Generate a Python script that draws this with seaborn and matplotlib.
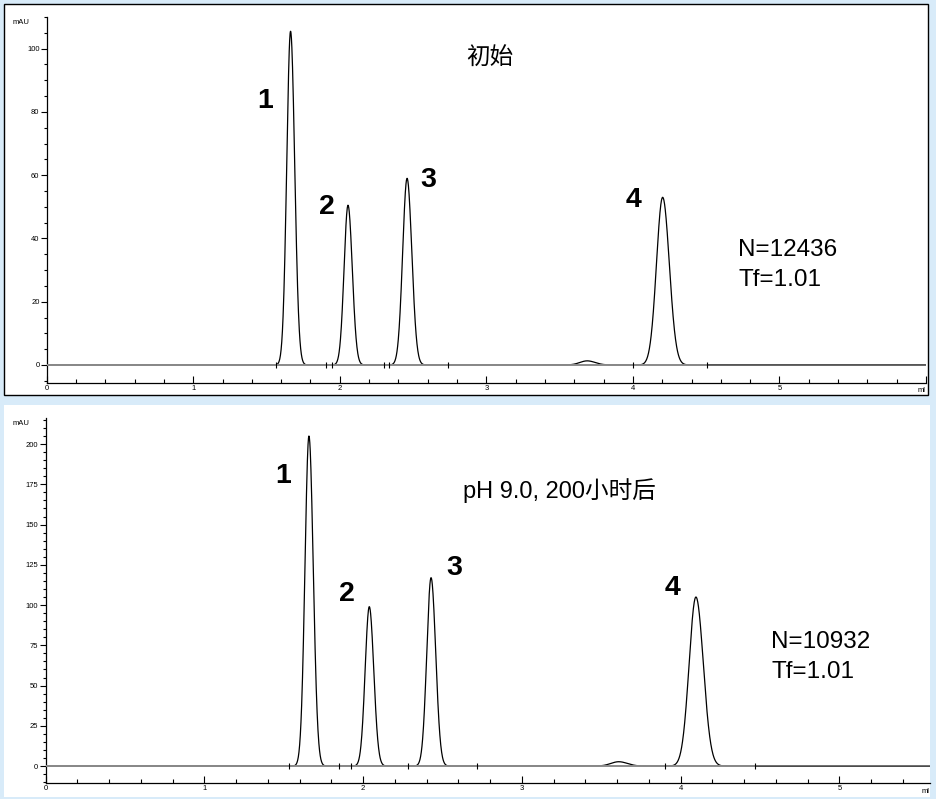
import numpy as np
import pandas as pd
import seaborn as sns
import matplotlib.pyplot as plt
from matplotlib.patches import Rectangle
from matplotlib.ticker import MultipleLocator, FuncFormatter

# peak table: retention (ml), height (mAU), width sigma (ml)
top_rt = [1.664, 2.056, 2.459, 3.688, 4.203]
top_height = [105.5, 50.5, 59.0, 1.3, 53.0]
top_sigma = [0.026, 0.027, 0.030, 0.050, 0.042]
top_events = [1.563, 1.905, 1.946, 2.305, 2.339, 2.741, 4.000, 4.505]

bot_rt = [1.659, 2.039, 2.428, 3.610, 4.096]
bot_height = [205.0, 99.0, 117.0, 2.7, 105.0]
bot_sigma = [0.025, 0.026, 0.027, 0.050, 0.043]
bot_events = [1.535, 1.850, 1.922, 2.285, 2.715, 3.901, 4.468]

peak_names = ['1', '2', '3', '4']
top_name_x = [1.49, 1.913, 2.603, 4.002]
top_name_y = [83.6, 49.8, 58.4, 52.0]
bot_name_x = [1.496, 1.899, 2.572, 3.951]
bot_name_y = [180.4, 106.6, 122.8, 110.4]

top_title = '初始'
bot_title = 'pH 9.0, 200小时后'
top_stats = ['N=12436', 'Tf=1.01']
bot_stats = ['N=10932', 'Tf=1.01']

sns.set_style('ticks')
plt.rcParams['font.family'] = ['Liberation Sans', 'Noto Sans CJK SC']
plt.rcParams['text.color'] = 'black'
plt.rcParams['xtick.color'] = 'black'
plt.rcParams['ytick.color'] = 'black'

W, H = 936, 799


def trace(x, rt, h, s):
    y = np.zeros_like(x)
    for r, a, w in zip(rt, h, s):
        ww = np.where(x > r, w * 1.08, w)
        y += a * np.exp(-0.5 * ((x - r) / ww) ** 2)
    return y


def fx(px):
    return px / W


def fy(py):
    return (H - py) / H


fig = plt.figure(figsize=(9.36, 7.99), dpi=100, facecolor='#d8ebf9')
fig.add_artist(Rectangle((fx(4), fy(395)), 924 / W, 391 / H, transform=fig.transFigure,
                         facecolor='white', edgecolor='black', lw=1, zorder=-1))
fig.add_artist(Rectangle((fx(4), fy(797)), 926 / W, 392 / H, transform=fig.transFigure,
                         facecolor='white', edgecolor='none', zorder=-1))

ax1 = fig.add_axes([fx(46.7), fy(383), (926 - 46.7) / W, (383 - 17) / H])
ax2 = fig.add_axes([fx(45.5), fy(783.3), (930 - 45.5) / W, (783.3 - 418.3) / H])

panels = [
    (ax1, top_rt, top_height, top_sigma, top_events, (0, 6.0), (-5.7, 110), 20,
     top_name_x, top_name_y, top_title, (3.026, 96.8), top_stats, (4.72, 36.3, 26.8), 22),
    (ax2, bot_rt, bot_height, bot_sigma, bot_events, (0, 5.57), (-10.7, 216), 25,
     bot_name_x, bot_name_y, bot_title, (2.63, 171), bot_stats, (4.57, 77, 58.5), 423.3),
]

for (ax, rt, hh, ss, ev, xl, yl, ymaj, nx, ny, title, tpos, stats, spos, mau_y) in panels:
    x = np.linspace(xl[0], xl[1], 4000)
    df = pd.DataFrame({'ml': x, 'mAU': trace(x, rt, hh, ss)})
    sns.lineplot(data=df, x='ml', y='mAU', ax=ax, color='black', lw=0.9,
                 estimator=None, sort=False, zorder=2)
    ax.plot([xl[0], ev[-1]], [0, 0], color='#8a8a8a', lw=1.4, zorder=3)
    ax.plot(ev, np.zeros(len(ev)), ls='none', marker='|', ms=4, mew=0.8,
            color='black', zorder=4)

    ax.set_xlim(*xl)
    ax.set_ylim(*yl)
    ax.set_xlabel('')
    ax.set_ylabel('')
    ax.set_facecolor('none')
    for side in ['top', 'right']:
        ax.spines[side].set_visible(False)
    for side in ['left', 'bottom']:
        ax.spines[side].set_color('black')
        ax.spines[side].set_linewidth(0.9)

    ax.xaxis.set_major_locator(MultipleLocator(1))
    ax.xaxis.set_minor_locator(MultipleLocator(0.2))
    ax.yaxis.set_major_locator(MultipleLocator(ymaj))
    ax.yaxis.set_minor_locator(MultipleLocator(5))
    ax.xaxis.set_major_formatter(FuncFormatter(lambda v, p: '' if v > 5.5 else '%d' % v))
    ax.tick_params(axis='x', which='major', direction='in', length=5, width=0.8,
                   labelsize=5.5, pad=1.5, colors='black')
    ax.tick_params(axis='x', which='minor', direction='in', length=3, width=0.8)
    ax.tick_params(axis='y', which='major', direction='out', length=4, width=0.8,
                   labelsize=5.5, pad=1.2, colors='black')
    ax.tick_params(axis='y', which='minor', direction='out', length=2.5, width=0.8)

    ax.text(1.0, -0.012, 'ml', transform=ax.transAxes, ha='right', va='top', fontsize=5.5)
    fig.text(fx(21), fy(mau_y), 'mAU', ha='center', va='center', fontsize=5.5)

    for name, px, py in zip(peak_names, nx, ny):
        ax.text(px, py, name, ha='center', va='center', fontsize=20.5, fontweight='bold')
    ax.text(tpos[0], tpos[1], title, ha='center' if title == top_title else 'left',
            va='center', fontsize=17)
    ax.text(spos[0], spos[1], stats[0], ha='left', va='center', fontsize=17.5)
    ax.text(spos[0], spos[2], stats[1], ha='left', va='center', fontsize=17.5)

fig.savefig('out.png', dpi=100, facecolor=fig.get_facecolor())
